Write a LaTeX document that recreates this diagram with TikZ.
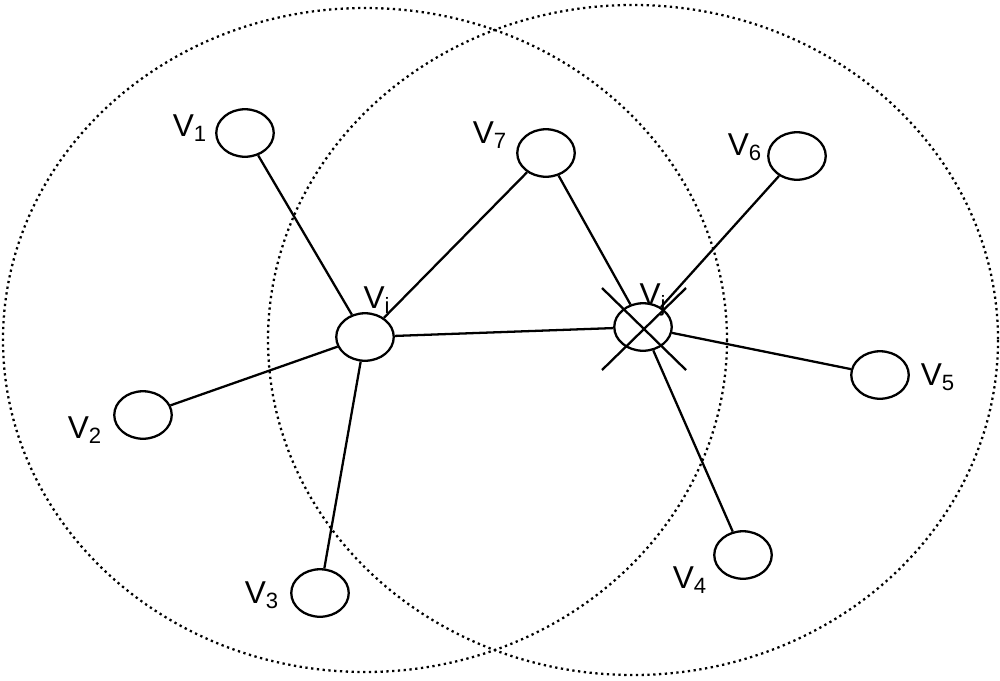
\documentclass[tikz,border=0pt]{standalone}
\usepackage{fontspec}
\setmainfont{Liberation Sans}
\usetikzlibrary{shapes.geometric}
\begin{document}
\begin{tikzpicture}[x=0.02cm,y=-0.02cm,
  v/.style={ellipse,draw,line width=1.3pt,minimum width=1.15cm,minimum height=0.95cm,inner sep=0pt},
  lab/.style={font=\fontsize{18}{20}\selectfont,inner sep=0pt},
  e/.style={line width=1.3pt},
  dot/.style={line width=1.3pt,dotted}]
\useasboundingbox (0,0) rectangle (1000,680);
\draw[dot] (365,340) ellipse [x radius=362,y radius=332];
\draw[dot] (633,340) ellipse [x radius=365,y radius=335];
\node[v] (v1) at (245,133) {};
\node[v] (v7) at (546,153) {};
\node[v] (v6) at (797,156) {};
\node[v] (vi) at (365,337) {};
\node[v] (vj) at (643,327) {};
\node[v] (v2) at (143,415) {};
\node[v] (v5) at (880,375) {};
\node[v] (v3) at (320,593) {};
\node[v] (v4) at (743,555) {};
\node[lab] at (190,128) {V$_{\mathrm{1}}$};
\node[lab] at (490,135) {V$_{\mathrm{7}}$};
\node[lab] at (745,147) {V$_{\mathrm{6}}$};
\node[lab] at (377,300) {V$_{\mathrm{i}}$};
\node[lab] at (653,300) {V$_{\mathrm{j}}$};
\node[lab] at (85,430) {V$_{\mathrm{2}}$};
\node[lab] at (938,377) {V$_{\mathrm{5}}$};
\node[lab] at (262,595) {V$_{\mathrm{3}}$};
\node[lab] at (690,580) {V$_{\mathrm{4}}$};
\draw[e] (vi)--(v1); \draw[e] (vi)--(v7); \draw[e] (vi)--(vj);
\draw[e] (vi)--(v2); \draw[e] (vi)--(v3);
\draw[e] (vj)--(v7); \draw[e] (vj)--(v6); \draw[e] (vj)--(v5); \draw[e] (vj)--(v4);
\coordinate (c1) at (602,288); \coordinate (c2) at (686,370);
\coordinate (c3) at (602,370); \coordinate (c4) at (686,288);
\draw[e] (c1)--(c2); \draw[e] (c3)--(c4);
\end{tikzpicture}
\end{document}
